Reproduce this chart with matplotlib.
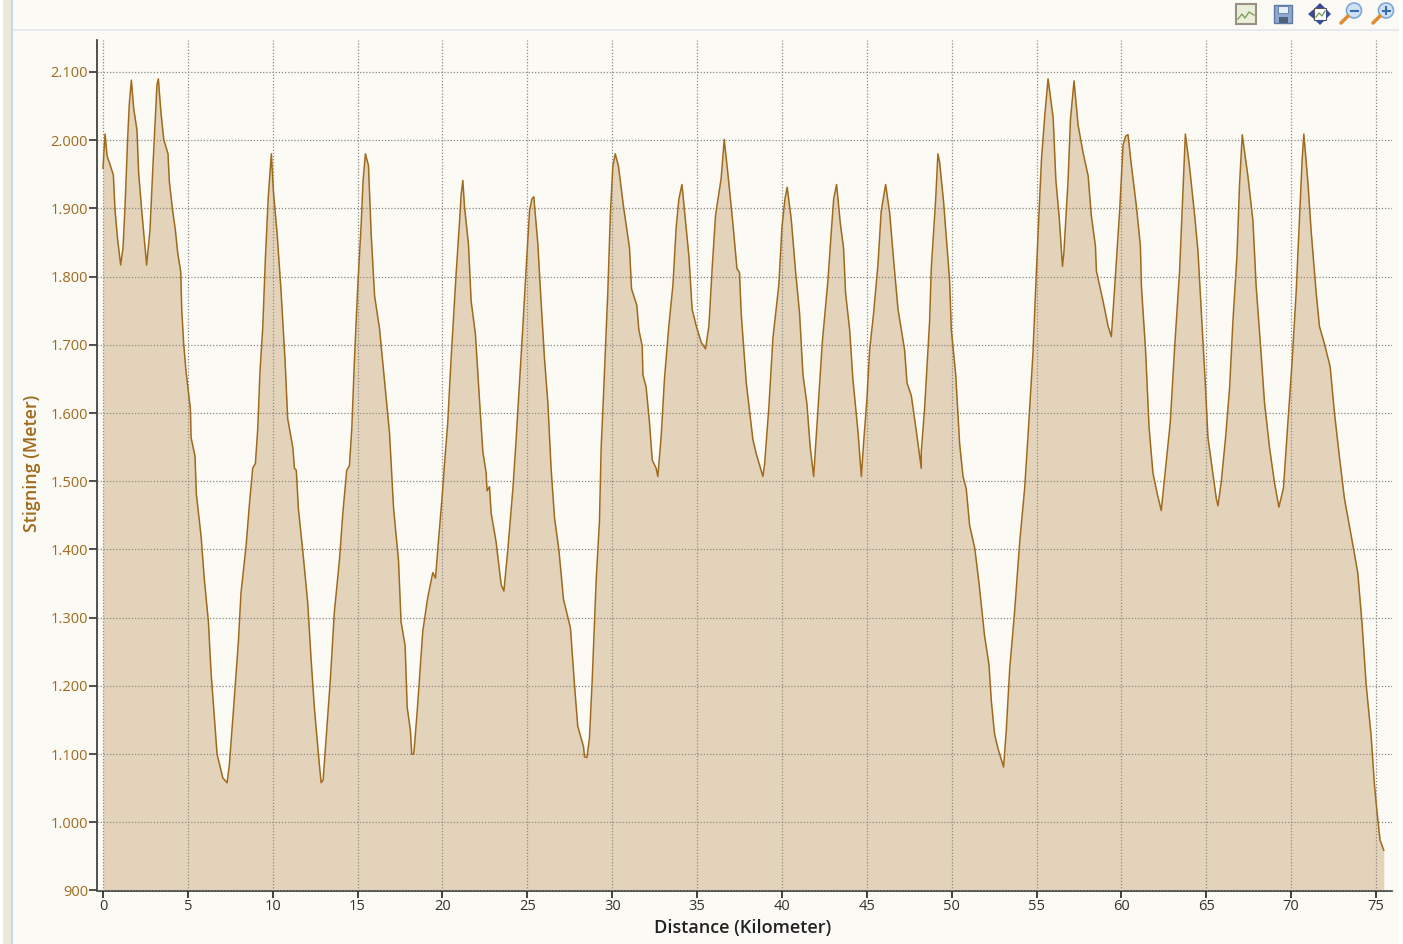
# elevation profile, screen grab of a route chart
import matplotlib
matplotlib.use("Agg")
import matplotlib.pyplot as plt
from matplotlib.patches import Rectangle, Circle, Polygon
from matplotlib.ticker import FuncFormatter

km = [0, .12, .24, .43, .61, .71, .86, 1.04, 1.18, 1.30, 1.45, 1.55, 1.67, 1.81, 2.0, 2.1, 2.28, 2.44, 2.57, 2.77,
      2.95, 3.1, 3.18, 3.26, 3.42, 3.58, 3.83, 3.91, 4.1, 4.26, 4.4, 4.58, 4.64, 4.75, 4.89, 5.15, 5.19, 5.42, 5.5, 5.78,
      5.97, 6.21, 6.37, 6.56, 6.72, 7.06, 7.31, 7.44, 7.7, 7.98, 8.13, 8.43, 8.63, 8.82, 8.98, 9.12, 9.25, 9.41, 9.57, 9.74,
      9.92, 10.04, 10.26, 10.49, 10.73, 10.88, 11.18, 11.28, 11.39, 11.51, 11.77, 12.06, 12.26, 12.45, 12.69, 12.85, 12.97, 13.14, 13.4, 13.63,
      13.93, 14.13, 14.36, 14.52, 14.66, 14.81, 15.01, 15.21, 15.32, 15.46, 15.64, 15.8, 16.0, 16.29, 16.59, 16.88, 17.12, 17.41, 17.56, 17.8,
      17.92, 18.11, 18.19, 18.31, 18.51, 18.84, 19.13, 19.43, 19.59, 19.78, 19.98, 20.12, 20.31, 20.51, 20.81, 21.0, 21.1, 21.2, 21.3, 21.53,
      21.69, 21.94, 22.18, 22.38, 22.57, 22.63, 22.77, 22.87, 23.16, 23.46, 23.62, 23.85, 24.15, 24.34, 24.54, 24.74, 24.93, 25.13, 25.27, 25.38,
      25.62, 25.78, 26.01, 26.21, 26.4, 26.6, 26.86, 27.13, 27.54, 27.78, 27.97, 28.31, 28.37, 28.51, 28.66, 28.82, 29.06, 29.25, 29.35, 29.49,
      29.74, 29.9, 30.04, 30.18, 30.37, 30.67, 31.02, 31.14, 31.45, 31.57, 31.77, 31.81, 32.0, 32.2, 32.36, 32.59, 32.69, 32.89, 33.08, 33.34,
      33.58, 33.77, 33.93, 34.11, 34.26, 34.52, 34.71, 34.95, 35.24, 35.5, 35.7, 35.89, 36.09, 36.42, 36.6, 36.82, 37.11, 37.35, 37.5, 37.6,
      37.9, 38.29, 38.49, 38.88, 38.98, 39.23, 39.47, 39.82, 40.0, 40.18, 40.31, 40.55, 40.81, 41.04, 41.24, 41.47, 41.67, 41.87, 42.12, 42.38,
      42.71, 42.91, 43.05, 43.22, 43.44, 43.63, 43.75, 43.99, 44.18, 44.48, 44.68, 44.81, 45.01, 45.17, 45.4, 45.66, 45.85, 46.11, 46.35, 46.58,
      46.84, 47.23, 47.37, 47.62, 47.92, 48.21, 48.21, 48.41, 48.7, 48.8, 49.06, 49.19, 49.29, 49.53, 49.88, 49.98, 50.24, 50.47, 50.67, 50.86,
      51.06, 51.36, 51.61, 51.94, 52.2, 52.34, 52.53, 52.73, 53.06, 53.22, 53.42, 53.71, 54.01, 54.3, 54.5, 54.79, 54.99, 55.29, 55.49, 55.68,
      55.98, 56.14, 56.33, 56.53, 56.61, 56.86, 57.0, 57.21, 57.45, 57.74, 58.04, 58.23, 58.47, 58.53, 58.92, 59.22, 59.41, 59.61, 59.9, 60.1,
      60.25, 60.39, 60.59, 60.88, 61.12, 61.18, 61.43, 61.63, 61.86, 62.1, 62.35, 62.61, 62.88, 63.14, 63.43, 63.59, 63.77, 64.02, 64.32, 64.51,
      64.71, 64.94, 65.1, 65.39, 65.59, 65.69, 65.88, 66.14, 66.38, 66.57, 66.81, 66.96, 67.12, 67.45, 67.75, 67.94, 68.18, 68.43, 68.73, 69.02,
      69.28, 69.55, 69.81, 70.06, 70.3, 70.49, 70.65, 70.75, 70.98, 71.18, 71.47, 71.67, 71.97, 72.3, 72.55, 72.85, 73.14, 73.73, 73.93, 74.18,
      74.42, 74.71, 74.91, 75.05, 75.24, 75.46]
elev = [1959, 2009, 1977, 1963, 1949, 1897, 1855, 1817, 1842, 1904, 2001, 2053, 2088, 2046, 2015, 1952, 1897, 1852, 1817, 1869,
        1966, 2042, 2081, 2090, 2039, 2001, 1980, 1939, 1897, 1869, 1835, 1807, 1751, 1703, 1661, 1606, 1564, 1537, 1481, 1419,
        1356, 1294, 1218, 1155, 1100, 1065, 1058, 1083, 1169, 1266, 1336, 1405, 1467, 1519, 1526, 1578, 1661, 1724, 1828, 1918,
        1980, 1925, 1862, 1779, 1675, 1592, 1550, 1519, 1516, 1460, 1398, 1322, 1239, 1169, 1100, 1058, 1062, 1121, 1211, 1308,
        1384, 1453, 1516, 1523, 1578, 1675, 1786, 1876, 1939, 1980, 1963, 1862, 1772, 1724, 1647, 1571, 1460, 1384, 1294, 1259,
        1169, 1135, 1100, 1100, 1162, 1280, 1329, 1366, 1358, 1417, 1477, 1525, 1585, 1680, 1806, 1878, 1920, 1941, 1902, 1848,
        1764, 1716, 1620, 1543, 1513, 1486, 1492, 1453, 1411, 1348, 1339, 1399, 1489, 1561, 1644, 1728, 1812, 1896, 1914, 1917,
        1848, 1776, 1680, 1615, 1519, 1447, 1399, 1327, 1285, 1201, 1141, 1111, 1096, 1095, 1123, 1207, 1357, 1441, 1549, 1627,
        1776, 1896, 1962, 1980, 1962, 1902, 1842, 1782, 1758, 1722, 1698, 1656, 1638, 1585, 1531, 1519, 1507, 1567, 1650, 1728,
        1788, 1872, 1914, 1935, 1896, 1830, 1752, 1728, 1704, 1694, 1728, 1812, 1890, 1944, 2001, 1950, 1878, 1812, 1806, 1746,
        1644, 1561, 1540, 1507, 1525, 1608, 1710, 1788, 1872, 1914, 1931, 1884, 1806, 1746, 1656, 1614, 1549, 1507, 1603, 1704,
        1794, 1866, 1914, 1935, 1878, 1842, 1776, 1722, 1650, 1573, 1507, 1555, 1621, 1693, 1746, 1818, 1896, 1935, 1893, 1824,
        1752, 1692, 1644, 1626, 1573, 1519, 1543, 1608, 1734, 1812, 1914, 1980, 1968, 1908, 1794, 1722, 1656, 1555, 1507, 1489,
        1435, 1402, 1351, 1273, 1231, 1177, 1129, 1108, 1081, 1135, 1225, 1309, 1411, 1489, 1567, 1687, 1806, 1971, 2037, 2090,
        2033, 1941, 1889, 1815, 1834, 1941, 2030, 2087, 2022, 1982, 1948, 1889, 1845, 1808, 1764, 1727, 1712, 1786, 1897, 1993,
        2006, 2008, 1963, 1904, 1845, 1786, 1690, 1579, 1512, 1483, 1457, 1520, 1586, 1697, 1808, 1904, 2009, 1960, 1889, 1838,
        1749, 1645, 1564, 1512, 1475, 1464, 1498, 1564, 1638, 1734, 1830, 1934, 2008, 1948, 1882, 1786, 1705, 1616, 1549, 1498,
        1462, 1490, 1586, 1675, 1778, 1882, 1971, 2009, 1941, 1867, 1778, 1727, 1701, 1668, 1601, 1535, 1475, 1394, 1365, 1291,
        1202, 1128, 1055, 1018, 974, 959]
x_ticks = [0, 5, 10, 15, 20, 25, 30, 35, 40, 45, 50, 55, 60, 65, 70, 75]
y_ticks = [900, 1000, 1100, 1200, 1300, 1400, 1500, 1600, 1700, 1800, 1900, 2000, 2100]

W, H = 1403, 944
bg = "#fbfaf5"
brown = "#a06a1c"

plt.rcParams['font.family'] = ['Open Sans', 'DejaVu Sans']
fig = plt.figure(figsize=(W / 100, H / 100), dpi=100, facecolor=bg)

# window chrome, in pixel coords
chrome = fig.add_axes([0, 0, 1, 1], zorder=0)
chrome.set_xlim(0, W)
chrome.set_ylim(H, 0)
chrome.axis("off")
chrome.add_patch(Rectangle((0, 0), 3, H, color="white", lw=0))
chrome.add_patch(Rectangle((3, 0), 8, H, color="#ece9d8", lw=0))
chrome.add_patch(Rectangle((11, 0), 2, H, color="#c9d6e6", lw=0))
chrome.add_patch(Rectangle((13, 29), W - 13, 2, color="#e8e9ee", lw=0))
chrome.add_patch(Rectangle((1399, 0), 4, H, color="white", lw=0))

# toolbar icons
chrome.add_patch(Rectangle((1236, 4), 20, 20, fc="#e9efd8", ec="#9a9080", lw=1.5))
chrome.plot([1238, 1242, 1245, 1249, 1254], [19, 14, 18, 12, 15], color="#7fa060", lw=1)
chrome.add_patch(Rectangle((1274, 5), 18, 18, fc="#8fa8cc", ec="#5f7aa8", lw=1))
chrome.add_patch(Rectangle((1278, 6), 10, 7, fc="#e8eef6", ec="#5f7aa8", lw=0.6))
chrome.add_patch(Rectangle((1279, 17), 9, 6, fc="#50607a", lw=0))
chrome.add_patch(Rectangle((1314, 8), 12, 12, fc="white", ec="#555", lw=0.8))
for pts in ([(1320, 3), (1315, 8), (1325, 8)], [(1320, 25), (1315, 20), (1325, 20)],
            [(1308, 14), (1314, 9), (1314, 19)], [(1331, 14), (1326, 9), (1326, 19)]):
    chrome.add_patch(Polygon(pts, fc="#3a4a9a", lw=0))
chrome.plot([1316, 1319, 1322, 1325], [17, 13, 16, 11], color="#7fa060", lw=1)
for cx, plus in ((1354, False), (1386, True)):
    chrome.plot([cx - 13, cx - 6], [23, 16], color="#e08a30", lw=2.5, solid_capstyle="round")
    chrome.add_patch(Circle((cx, 10.5), 7.5, fc="#cfe2f5", ec="#7fa6d8", lw=1.2))
    chrome.plot([cx - 3.5, cx + 3.5], [10.5, 10.5], color="#3a6ab0", lw=1.5)
    if plus:
        chrome.plot([cx, cx], [7, 14], color="#3a6ab0", lw=1.5)

# plot area: 0 km at px 103, 75 km at px 1376; 900 m at px 890.5, 2100 m at px 72
left, right, top, bottom = 97, 1392, 40, 890.5
ax = fig.add_axes([left / W, 1 - bottom / H, (right - left) / W, (bottom - top) / H], zorder=1)
ax.patch.set_alpha(0)
ax.set_xlim((left - 103) / 16.973, (right - 103) / 16.973)
ax.set_ylim(900, 900 + (bottom - top) / 0.6821)

ax.fill_between(km, elev, 900, color="#e3d3bb", lw=0, zorder=1)
ax.plot(km, elev, color=brown, lw=1.1, zorder=3)

ax.set_xticks(x_ticks)
ax.set_yticks(y_ticks)
ax.yaxis.set_major_formatter(FuncFormatter(lambda v, p: f"{int(v):,}".replace(",", ".")))
ax.grid(True, color="#8f8a80", lw=0.9, ls=(0, (1, 1.5)), zorder=2)
ax.set_axisbelow(False)
for s in ("top", "right"):
    ax.spines[s].set_visible(False)
for s in ("left", "bottom"):
    ax.spines[s].set_color("#333333")
    ax.spines[s].set_linewidth(1.2)
ax.tick_params(axis="x", length=5, width=1.2, color="#222222", labelcolor="#333333", labelsize=10.5, pad=1)
ax.tick_params(axis="y", length=5.5, width=1.2, color="#333333", labelcolor=brown, labelsize=10.5, pad=1)

fig.text(743 / W, 1 - 928 / H, "Distance (Kilometer)", ha="center", va="center",
         fontsize=13, fontweight="semibold", color="#222222")
fig.text(32 / W, 1 - 463 / H, "Stigning (Meter)", rotation=90, ha="center", va="center",
         fontsize=12.9, fontweight="semibold", color=brown)

fig.savefig("out.png", dpi=100, facecolor=bg)
